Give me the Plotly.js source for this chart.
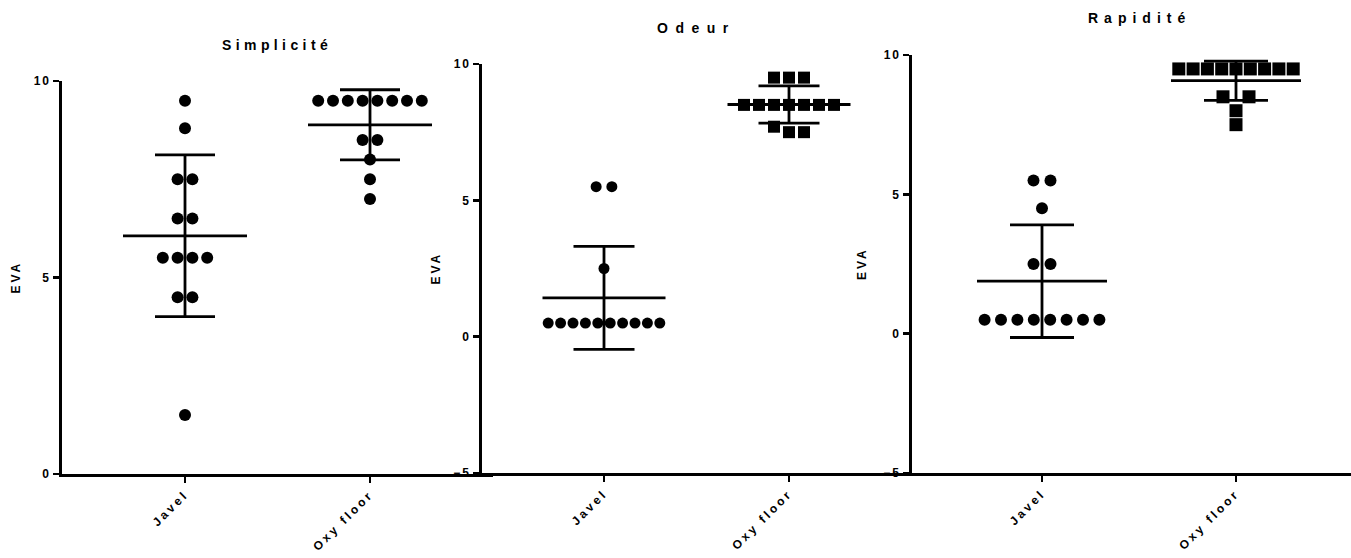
<!DOCTYPE html>
<html><head><meta charset="utf-8">
<script src="https://cdn.plot.ly/plotly-3.0.1.min.js"></script>
<style>
html,body{margin:0;padding:0;background:#fff}
#chart{width:1351px;height:558px}
g.xtick text, g.x2tick text, g.x3tick text{letter-spacing:3px}
g.ytick text, g.y2tick text, g.y3tick text{letter-spacing:2px}
</style></head><body><div id="chart"></div>
<script>
// ---- data ----
const categories = ['Javel', 'Oxy floor'];
const panelTitles = ['Simplicité', 'Odeur', 'Rapidité'];
const yTitle = 'EVA';
const simpliciteJavel = [9.5, 8.8, 7.5, 7.5, 6.5, 6.5, 5.5, 5.5, 5.5, 5.5, 4.5, 4.5, 1.5];
const simpliciteOxy = [9.5, 9.5, 9.5, 9.5, 9.5, 9.5, 9.5, 9.5, 8.5, 8.5, 8, 7.5, 7];
const odeurJavel = [5.5, 5.5, 2.5, 0.5, 0.5, 0.5, 0.5, 0.5, 0.5, 0.5, 0.5, 0.5, 0.5];
const odeurOxy = [9.5, 9.5, 9.5, 8.5, 8.5, 8.5, 8.5, 8.5, 8.5, 8.5, 7.7, 7.5, 7.5];
const rapiditeJavel = [5.5, 5.5, 4.5, 2.5, 2.5, 0.5, 0.5, 0.5, 0.5, 0.5, 0.5, 0.5, 0.5];
const rapiditeOxy = [9.5, 9.5, 9.5, 9.5, 9.5, 9.5, 9.5, 9.5, 9.5, 8.5, 8.5, 8, 7.5];
const yTicksSimplicite = [0, 5, 10];
const yTicksOther = [-5, 0, 5, 10];

// ---- layout geometry (pixels) ----
const W = 1351, H = 558;
const FONT = 'Liberation Sans, Arial, sans-serif';
const panels = [
  {title: panelTitles[0], data: [simpliciteJavel, simpliciteOxy], sym: ['circle', 'circle'],
   x0: 62, x1: 493, c0: 185, c1: 370, yb: 474, yt: 81, yr: [0, 10], ticks: yTicksSimplicite,
   size: [12, 12], spacing: [14.8, 14.8], pairGap: [14.8, 14.8], titleX: 277, titleY: 45, ls: 4.4, eva: 15, mhw: 62, chw: 30},
  {title: panelTitles[1], data: [odeurJavel, odeurOxy], sym: ['circle', 'square'],
   x0: 482, x1: 911, c0: 604, c1: 789, yb: 473, yt: 64, yr: [-5, 10], ticks: yTicksOther,
   size: [11, 12], spacing: [12.4, 15], pairGap: [15.7, 15], titleX: 696, titleY: 28, ls: 7.5, eva: 435, mhw: 61.5, chw: 30.5},
  {title: panelTitles[2], data: [rapiditeJavel, rapiditeOxy], sym: ['circle', 'square'],
   x0: 912, x1: 1351, c0: 1042, c1: 1236, yb: 473, yt: 55, yr: [-5, 10], ticks: yTicksOther,
   size: [12, 13], spacing: [16.4, 14.3], pairGap: [17, 26], titleX: 1139, titleY: 18, ls: 6, eva: 862, mhw: 65, chw: 32}
];

function mean(a) { return a.reduce((s, v) => s + v, 0) / a.length; }
function sd(a) { const m = mean(a); return Math.sqrt(a.reduce((s, v) => s + (v - m) * (v - m), 0) / (a.length - 1)); }

// spread equal-valued points horizontally around the category centre
function swarm(vals, centre, spacingUnits, pairUnits) {
  const bins = {};
  vals.forEach(v => { const k = Math.round(v * 2) / 2; (bins[k] = bins[k] || []).push(v); });
  const xs = [], ys = [];
  Object.keys(bins).forEach(k => {
    const g = bins[k].slice().sort((a, b) => b - a);
    const n = g.length;
    const sp = n === 2 ? pairUnits : spacingUnits;
    g.forEach((v, i) => { xs.push(centre + (i - (n - 1) / 2) * sp); ys.push(v); });
  });
  return {xs, ys};
}

const traces = [], annotations = [], layout = {
  width: W, height: H, margin: {l: 0, r: 0, t: 0, b: 0},
  paper_bgcolor: '#fff', plot_bgcolor: 'rgba(0,0,0,0)', showlegend: false,
  font: {family: FONT, color: '#000', weight: 700}
};

panels.forEach((p, k) => {
  const idx = k === 0 ? '' : String(k + 1);
  const xa = 'x' + idx, ya = 'y' + idx;
  const ppu = p.c1 - p.c0;
  const xr = [(p.x0 - p.c0) / ppu, (p.x1 - p.c0) / ppu];
  layout['xaxis' + idx] = {
    domain: [p.x0 / W, p.x1 / W], range: xr, anchor: ya,
    showline: true, linewidth: 2.6, linecolor: '#000', showgrid: false, zeroline: false,
    tickmode: 'array', tickvals: [0, 1], ticktext: categories, tickangle: -45,
    ticks: 'outside', ticklen: 6, tickwidth: 2.4, tickcolor: '#000',
    tickfont: {family: FONT, size: 12, weight: 700, color: '#000'}, fixedrange: true
  };
  layout['yaxis' + idx] = {
    domain: [1 - p.yb / H, 1 - p.yt / H], range: p.yr, anchor: xa,
    showline: true, linewidth: 2.6, linecolor: '#000', showgrid: false, zeroline: false,
    tickmode: 'array', tickvals: p.ticks, ticks: 'outside', ticklen: 6, tickwidth: 2.4, tickcolor: '#000',
    tickfont: {family: FONT, size: 12, weight: 700, color: '#000'}, fixedrange: true
  };
  p.data.forEach((vals, g) => {
    const s = swarm(vals, g, p.spacing[g] / ppu, p.pairGap[g] / ppu);
    traces.push({type: 'scatter', mode: 'markers', x: s.xs, y: s.ys, xaxis: xa, yaxis: ya,
      marker: {symbol: p.sym[g], size: p.size[g], color: '#000', line: {width: 0}}, hoverinfo: 'skip'});
  });
  p.data.forEach((vals, g) => {
    const m = mean(vals), d = sd(vals);
    const mh = p.mhw / ppu, ch = p.chw / ppu;
    traces.push({type: 'scatter', mode: 'lines', xaxis: xa, yaxis: ya, hoverinfo: 'skip',
      x: [g - mh, g + mh, null, g, g, null, g - ch, g + ch, null, g - ch, g + ch],
      y: [m, m, null, m - d, m + d, null, m + d, m + d, null, m - d, m - d],
      line: {color: '#000', width: 2.8}});
  });
  annotations.push({xref: 'paper', yref: 'paper', x: p.titleX / W, y: 1 - p.titleY / H,
    xanchor: 'center', yanchor: 'middle', showarrow: false,
    text: '<span style="letter-spacing:' + p.ls + 'px">' + p.title + '</span>',
    font: {family: FONT, size: 14, weight: 700, color: '#000'}});
  annotations.push({xref: 'paper', yref: ya + ' domain', x: p.eva / W, y: 0.5,
    xanchor: 'center', yanchor: 'middle', showarrow: false, textangle: -90,
    text: '<span style="letter-spacing:3px">' + yTitle + '</span>',
    font: {family: FONT, size: 12, weight: 700, color: '#000'}});
});
layout.annotations = annotations;

Plotly.newPlot('chart', traces, layout, {staticPlot: true, displayModeBar: false});
</script></body></html>
